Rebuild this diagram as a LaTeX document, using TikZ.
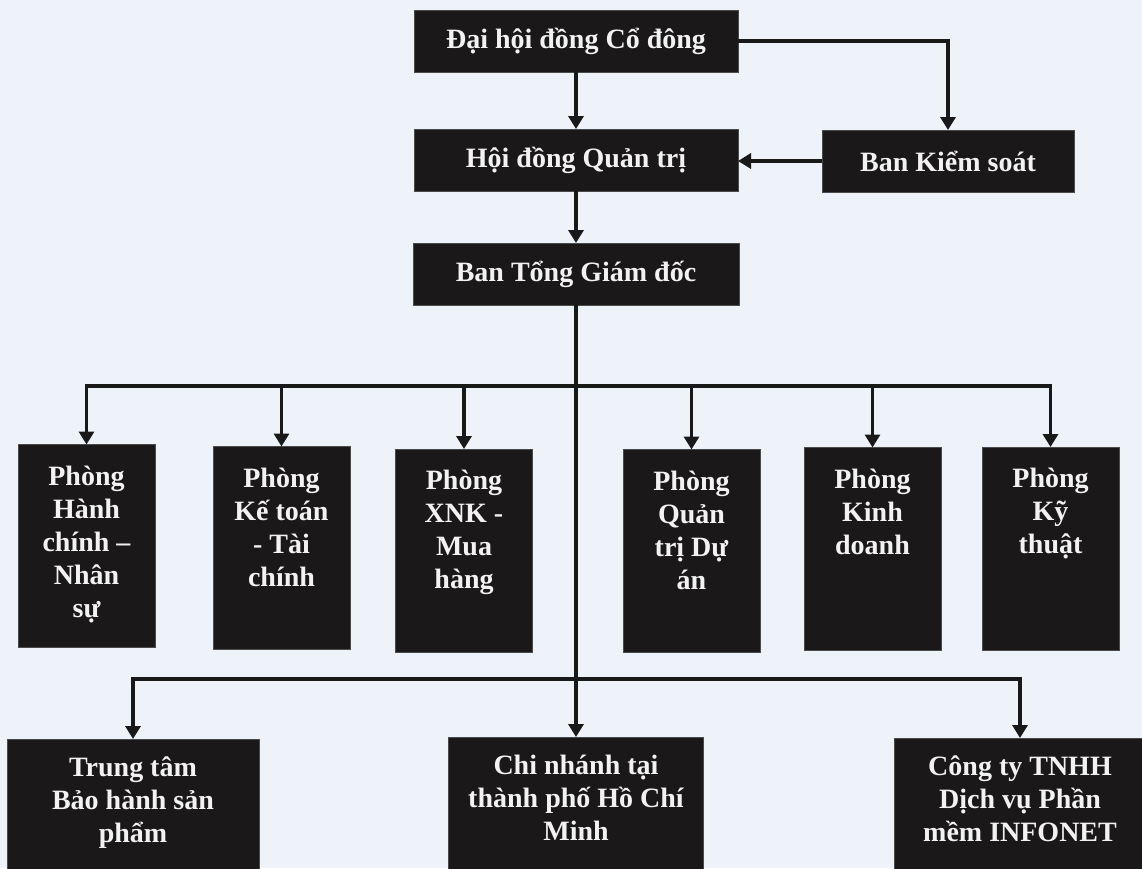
\documentclass[tikz,border=0pt]{standalone}
\usepackage{fontspec}
\setmainfont{Liberation Serif}
\usetikzlibrary{arrows.meta}
\definecolor{bg}{RGB}{238,243,250}
\definecolor{boxfill}{RGB}{26,24,24}
\definecolor{boxedge}{RGB}{75,75,75}
\definecolor{txtc}{RGB}{242,242,242}
\begin{document}
\begin{tikzpicture}[x=1pt,y=-1pt,
  orgbox/.style={rectangle, draw=boxedge, fill=boxfill, line width=0.8pt, inner sep=0pt, outer sep=0pt},
  lbl/.style={text=txtc, font=\fontsize{28}{33}\selectfont\bfseries, align=center, inner sep=0pt},
  conn/.style={line width=3.2pt, draw=black!90, line cap=rect},
  arr/.style={line width=3.2pt, draw=black!90, -{Triangle[width=15pt,length=13pt]}},
  wide/.style={minimum width=324pt, minimum height=62pt},
  dept/.style={minimum width=137pt, minimum height=203pt},
  unit/.style={minimum width=252pt, minimum height=134pt}]

\useasboundingbox (0,0) rectangle (1142,868);
\fill[bg] (0,0) rectangle (1142,868);

% top level
\node[orgbox, lbl, wide] (dh) at (576,41) {Đại hội đồng Cổ đông};
\node[orgbox, lbl, wide] (hdqt) at (576,160) {Hội đồng Quản trị};
\node[orgbox, lbl, minimum width=252pt, minimum height=62pt] (bks) at (948,161) {Ban Kiểm soát};
\node[orgbox, lbl, minimum width=326pt, minimum height=62pt] (btgd) at (576,274) {Ban Tổng Giám đốc};

% departments
\node[orgbox, dept] (p1) at (86.5,546) {};
\node[orgbox, dept] (p2) at (281.5,548) {};
\node[orgbox, dept] (p3) at (464,550.5) {};
\node[orgbox, dept] (p4) at (691.5,551) {};
\node[orgbox, dept] (p5) at (872.5,549) {};
\node[orgbox, dept] (p6) at (1050.5,548.5) {};

\node[lbl, anchor=north] (t1) at ([yshift=-21pt]p1.north) {Phòng\\Hành\\chính –\\Nhân\\sự};
\node[lbl, anchor=north] (t2) at ([yshift=-21pt]p2.north) {Phòng\\Kế toán\\- Tài\\chính};
\node[lbl, anchor=north] (t3) at ([yshift=-21pt]p3.north) {Phòng\\XNK -\\Mua\\hàng};
\node[lbl, anchor=north] (t4) at ([yshift=-21pt]p4.north) {Phòng\\Quản\\trị Dự\\án};
\node[lbl, anchor=north] (t5) at ([yshift=-21pt]p5.north) {Phòng\\Kinh\\doanh};
\node[lbl, anchor=north] (t6) at ([yshift=-21pt]p6.north) {Phòng\\Kỹ\\thuật};

% bottom units
\node[orgbox, unit] (tt) at (133,806) {};
\node[orgbox, unit, minimum width=255pt] (cn) at (576,804) {};
\node[orgbox, unit] (ct) at (1020,805) {};

\node[lbl, anchor=north] (u1) at ([yshift=-18pt]tt.north) {Trung tâm\\Bảo hành sản\\phẩm};
\node[lbl, anchor=north] (u2) at ([yshift=-18pt]cn.north) {Chi nhánh tại\\thành phố Hồ Chí\\Minh};
\node[lbl, anchor=north] (u3) at ([yshift=-18pt]ct.north) {Công ty TNHH\\Dịch vụ Phần\\mềm INFONET};

% connectors
\coordinate (bus1) at (576,386);
\coordinate (bus2) at (576,679);

\draw[arr] (dh) -- (hdqt);
\draw[arr] (dh.east) -| (bks.north);
\draw[arr] (bks.west) -- (bks.west -| hdqt.east);
\draw[arr] (hdqt) -- (btgd);
\draw[arr] (btgd.south) -- (cn.north);

\draw[conn] (p1.north |- bus1) -- (p6.north |- bus1);
\foreach \p in {p1,p2,p3,p4,p5,p6}{
  \draw[arr] (\p.north |- bus1) -- (\p.north);
}

\draw[conn] (tt.north |- bus2) -- (ct.north |- bus2);
\draw[arr] (tt.north |- bus2) -- (tt.north);
\draw[arr] (ct.north |- bus2) -- (ct.north);
\end{tikzpicture}
\end{document}
